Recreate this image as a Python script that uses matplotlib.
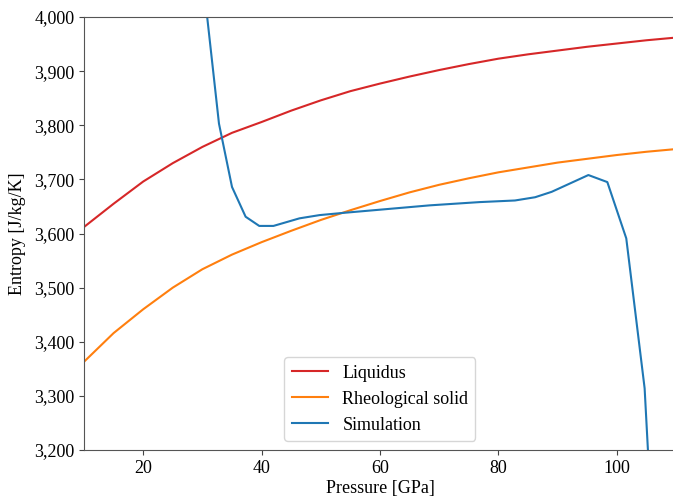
import matplotlib.pyplot as plt
from matplotlib.ticker import FuncFormatter

plt.rcParams['font.family'] = ['Liberation Serif', 'DejaVu Serif']

# liquidus / rheological solid, every 5 GPa
p_curve = [10, 15, 20, 25, 30, 35, 40, 45, 50, 55, 60,
           65, 70, 75, 80, 85, 90, 95, 100, 105, 110]
s_liquidus = [3612, 3655, 3696, 3730, 3760, 3786, 3806, 3827, 3846, 3863, 3877,
              3890, 3902, 3913, 3923, 3931, 3938, 3945, 3951, 3957, 3962]
s_solid = [3363, 3416, 3460, 3500, 3534, 3561, 3584, 3605, 3625, 3643, 3660,
           3676, 3690, 3702, 3713, 3722, 3731, 3738, 3745, 3751, 3756]

# simulation track
p_sim = [30.3, 32.8, 35.0, 37.3, 39.6, 42.0, 46.4, 49.8, 53.7, 60.0, 68.4,
         76.8, 82.8, 86.2, 89.0, 95.2, 98.4, 101.6, 104.7, 105.6]
s_sim = [4050, 3803, 3686, 3631, 3614, 3614, 3628, 3634, 3638, 3644, 3652,
         3658, 3661, 3667, 3677, 3708, 3695, 3591, 3314, 3130]

fig = plt.figure(figsize=(6.73, 5.01), dpi=100)
ax = fig.add_axes([84/673, 51/501, 592/673, 433/501])

ax.plot(p_curve, s_liquidus, color='tab:red', lw=1.5, label='Liquidus')
ax.plot(p_curve, s_solid, color='tab:orange', lw=1.5, label='Rheological solid')
ax.plot(p_sim, s_sim, color='tab:blue', lw=1.5, label='Simulation')

ax.set_xlim(10, 110)
ax.set_ylim(3200, 4000)
ax.set_xticks([20, 40, 60, 80, 100])
ax.yaxis.set_major_formatter(FuncFormatter(lambda v, pos: f'{v:,.0f}'))
ax.tick_params(labelsize=13, color='#444444')
for sp in ax.spines.values():
    sp.set_color('#555555')

ax.set_xlabel('Pressure [GPa]', fontsize=13, labelpad=2)
ax.set_ylabel('Entropy [J/kg/K]', fontsize=13, labelpad=6)
ax.legend(loc='lower center', fontsize=13)

fig.savefig('out.png', dpi=100)
